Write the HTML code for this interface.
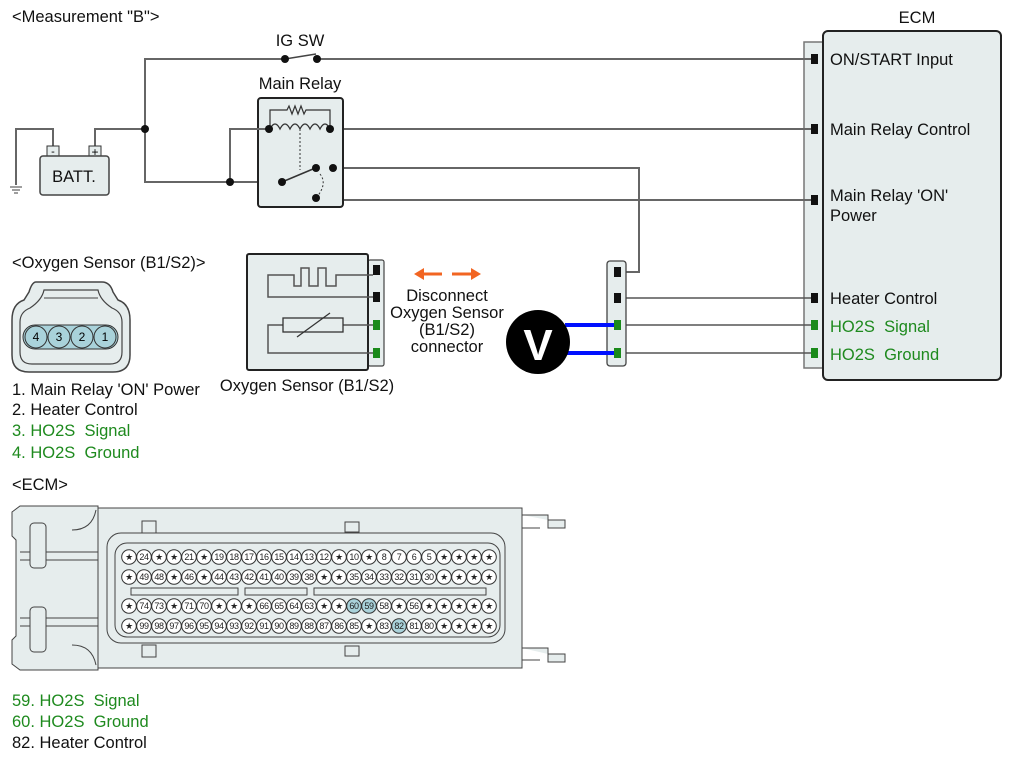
<!DOCTYPE html>
<html><head><meta charset="utf-8"><style>
html,body{margin:0;padding:0;background:#fff;}
svg{display:block;font-family:"Liberation Sans",Arial,sans-serif;}
.w{stroke:#666;stroke-width:2;fill:none}
.t{font-size:16.5px;fill:#111}
.g{font-size:16.5px;fill:#1e8a1e}
.p circle{fill:#fff;stroke:#333;stroke-width:1}
.p text{font-size:9px;text-anchor:middle;fill:#222;letter-spacing:-0.4px}
</style></head><body>
<svg width="1012" height="758" viewBox="0 0 1012 758">
<text x="12" y="22" class="t">&lt;Measurement "B"&gt;</text>
<text x="917" y="23" class="t" text-anchor="middle">ECM</text>
<text x="300" y="46" class="t" text-anchor="middle">IG SW</text>
<text x="300" y="89" class="t" text-anchor="middle">Main Relay</text>

<path d="M823 42 H804 V368 H823" fill="#e6eded" stroke="#777" stroke-width="1.5"/>
<rect x="823" y="31" width="178" height="349" rx="5" fill="#e6eded" stroke="#222" stroke-width="2"/>
<text x="830" y="65" class="t">ON/START Input</text>
<text x="830" y="135" class="t">Main Relay Control</text>
<text x="830" y="201" class="t">Main Relay 'ON'</text>
<text x="830" y="221" class="t">Power</text>
<text x="830" y="304" class="t">Heater Control</text>
<text x="830" y="332" class="g" xml:space="preserve">HO2S  Signal</text>
<text x="830" y="360" class="g" xml:space="preserve">HO2S  Ground</text>

<path class="w" d="M285 59 H145 V182 H282"/>
<path class="w" d="M317 59 H812"/>
<line x1="285" y1="59" x2="316" y2="54" stroke="#444" stroke-width="1.5"/>
<path class="w" d="M95 146 V129 H145"/>
<path class="w" d="M53 146 V129 H16 V185"/>
<path d="M10 187 H22 M12 190 H20 M14 193 H18" stroke="#666" stroke-width="1.2"/>
<path class="w" d="M330 129 H812"/>
<path class="w" d="M333 168 H639 V272 H617"/>
<path class="w" d="M333 168 V200 H812"/>
<path d="M617 298 H812 M617 325 H812 M617 353 H812" stroke="#555" stroke-width="1.5"/>

<rect x="47" y="146" width="12" height="10" fill="#e6eded" stroke="#333"/>
<rect x="89" y="146" width="12" height="10" fill="#e6eded" stroke="#333"/>
<text x="53" y="155" font-size="11" text-anchor="middle">-</text>
<text x="95" y="156" font-size="12" text-anchor="middle">+</text>
<rect x="40" y="156" width="69" height="39" rx="3" fill="#e6eded" stroke="#444" stroke-width="1.5"/>
<text x="74" y="182" class="t" text-anchor="middle">BATT.</text>

<rect x="258" y="98" width="85" height="109" rx="3" fill="#e6eded" stroke="#222" stroke-width="2"/>
<path class="w" d="M269 129 H230 V182"/>
<path d="M270 129 V110 H287 l2-4 l3 8 l3-8 l3 8 l3-8 l3 8 l2-4 H330 V129" fill="none" stroke="#333" stroke-width="1.2"/>
<path d="M270 129 q5-10 10 0 q5-10 10 0 q5-10 10 0 q5-10 10 0 q5-10 10 0 q5-10 10 0" fill="none" stroke="#333" stroke-width="1.3"/>
<line x1="300" y1="129" x2="300" y2="170" stroke="#333" stroke-dasharray="2,2"/>
<line x1="282" y1="182" x2="313" y2="169" stroke="#333" stroke-width="1.5"/>
<path d="M320 174 q8 10 -4 24" fill="none" stroke="#333" stroke-dasharray="2,2"/>
<g fill="#111"><circle cx="145" cy="129" r="4"/><circle cx="230" cy="182" r="4"/><circle cx="285" cy="59" r="4"/><circle cx="317" cy="59" r="4"/>
<circle cx="269" cy="129" r="4"/><circle cx="330" cy="129" r="4"/><circle cx="282" cy="182" r="4"/><circle cx="316" cy="168" r="4"/><circle cx="333" cy="168" r="4"/><circle cx="316" cy="198" r="4"/></g>

<g fill="#111"><rect x="811" y="54" width="7" height="10"/><rect x="811" y="124" width="7" height="10"/><rect x="811" y="195" width="7" height="10"/><rect x="811" y="293" width="7" height="10"/></g>
<g fill="#1a8a1a"><rect x="811" y="320" width="7" height="10"/><rect x="811" y="348" width="7" height="10"/></g>

<rect x="607" y="261" width="19" height="105" rx="3" fill="#e6eded" stroke="#444" stroke-width="1.3"/>
<g fill="#111"><rect x="614" y="267" width="7" height="10"/><rect x="614" y="293" width="7" height="10"/></g>
<g fill="#1a8a1a"><rect x="614" y="320" width="7" height="10"/><rect x="614" y="348" width="7" height="10"/></g>
<path d="M565 325 H614 M565 353 H614" stroke="#0010ff" stroke-width="4"/>
<circle cx="538" cy="342" r="32" fill="#000"/>
<text x="538" y="360" font-size="44" font-weight="bold" fill="#fff" text-anchor="middle">V</text>

<path d="M442 274 H422" stroke="#f26522" stroke-width="3"/><path d="M414 274 l10-6 v12z" fill="#f26522"/>
<path d="M452 274 H472" stroke="#f26522" stroke-width="3"/><path d="M481 274 l-10-6 v12z" fill="#f26522"/>
<g class="t" text-anchor="middle"><text x="447" y="301">Disconnect</text><text x="447" y="318">Oxygen Sensor</text><text x="447" y="335">(B1/S2)</text><text x="447" y="352">connector</text></g>

<rect x="368" y="260" width="16" height="106" rx="2" fill="#e6eded" stroke="#444" stroke-width="1.2"/>
<rect x="247" y="254" width="121" height="116" rx="2" fill="#e6eded" stroke="#222" stroke-width="2"/>
<path d="M373 275 H336 V286 H326 V268 H318 V286 H309 V268 H301 V286 H294 V275 H268 V297 H373" fill="none" stroke="#555" stroke-width="1.5"/>
<path d="M373 325 H343 M283 325 H268 V353 H373" fill="none" stroke="#555" stroke-width="1.5"/>
<rect x="283" y="318" width="60" height="14" fill="#e6eded" stroke="#333" stroke-width="1.3"/>
<line x1="297" y1="337" x2="330" y2="313" stroke="#333" stroke-width="1.3"/>
<g fill="#111"><rect x="373" y="265" width="7" height="10"/><rect x="373" y="292" width="7" height="10"/></g>
<g fill="#1a8a1a"><rect x="373" y="320" width="7" height="10"/><rect x="373" y="348" width="7" height="10"/></g>
<text x="307" y="391" class="t" text-anchor="middle">Oxygen Sensor (B1/S2)</text>

<text x="12" y="268" class="t">&lt;Oxygen Sensor (B1/S2)&gt;</text>
<path d="M36 282 H102 Q110 282 113 292 L118 300 Q130 304 130 320 V355 Q130 372 113 372 H29 Q12 372 12 355 V320 Q12 304 24 300 L29 292 Q32 282 36 282Z" fill="#e6eded" stroke="#444" stroke-width="1.5"/>
<path d="M44 290 H98 Q100 300 112 308 Q122 312 122 322 V352 Q122 364 110 364 H32 Q20 364 20 352 V322 Q20 312 30 308 Q42 300 44 290Z" fill="none" stroke="#444" stroke-width="1.2"/>
<line x1="44" y1="298" x2="98" y2="298" stroke="#444"/>
<rect x="23" y="325" width="95" height="24" rx="12" fill="#a9d2da" stroke="#333"/>
<g stroke="#333" fill="#a9d2da"><circle cx="36" cy="337" r="11"/><circle cx="59" cy="337" r="11"/><circle cx="82" cy="337" r="11"/><circle cx="105" cy="337" r="11"/></g>
<g font-size="12" text-anchor="middle"><text x="36" y="341">4</text><text x="59" y="341">3</text><text x="82" y="341">2</text><text x="105" y="341">1</text></g>
<text x="12" y="395" class="t">1. Main Relay 'ON' Power</text>
<text x="12" y="415" class="t">2. Heater Control</text>
<text x="12" y="436" class="g" xml:space="preserve">3. HO2S  Signal</text>
<text x="12" y="458" class="g" xml:space="preserve">4. HO2S  Ground</text>
<text x="12" y="490" class="t">&lt;ECM&gt;</text>

<g stroke="#444" stroke-width="1" fill="#e6eded">
<path d="M12 512 L20 506 H98 V670 H20 L12 664 V640 L16 636 V540 L12 536Z"/>
<rect x="98" y="508" width="424" height="160"/>
<path d="M522 515 H548 V528 H565 V520 H548 M522 528 H540"/>
<path d="M522 648 H548 V662 H565 V654 H548 M522 660 H540"/>
<path d="M20 552 H98 M20 560 H98 M20 618 H98 M20 626 H98" fill="none"/>
<rect x="30" y="523" width="16" height="45" rx="4"/><rect x="30" y="607" width="16" height="45" rx="4"/>
<path d="M72 530 q20 0 24 -20 M72 645 q20 0 24 20" fill="none"/>
<rect x="142" y="521" width="14" height="12"/><rect x="142" y="645" width="14" height="12"/>
<rect x="345" y="522" width="14" height="10"/><rect x="345" y="646" width="14" height="10"/>
<rect x="200" y="536" width="120" height="8"/><rect x="200" y="634" width="120" height="8"/>
<rect x="107" y="533" width="398" height="110" rx="14"/>
<rect x="115" y="543" width="385" height="94" rx="12"/>
<rect x="131" y="588" width="107" height="7"/><rect x="245" y="588" width="62" height="7"/><rect x="314" y="588" width="172" height="7"/>
</g>
<g class="p">
<circle cx="129" cy="557" r="7.3"/><text x="129" y="560">★</text>
<circle cx="144" cy="557" r="7.3"/><text x="144" y="560">24</text>
<circle cx="159" cy="557" r="7.3"/><text x="159" y="560">★</text>
<circle cx="174" cy="557" r="7.3"/><text x="174" y="560">★</text>
<circle cx="189" cy="557" r="7.3"/><text x="189" y="560">21</text>
<circle cx="204" cy="557" r="7.3"/><text x="204" y="560">★</text>
<circle cx="219" cy="557" r="7.3"/><text x="219" y="560">19</text>
<circle cx="234" cy="557" r="7.3"/><text x="234" y="560">18</text>
<circle cx="249" cy="557" r="7.3"/><text x="249" y="560">17</text>
<circle cx="264" cy="557" r="7.3"/><text x="264" y="560">16</text>
<circle cx="279" cy="557" r="7.3"/><text x="279" y="560">15</text>
<circle cx="294" cy="557" r="7.3"/><text x="294" y="560">14</text>
<circle cx="309" cy="557" r="7.3"/><text x="309" y="560">13</text>
<circle cx="324" cy="557" r="7.3"/><text x="324" y="560">12</text>
<circle cx="339" cy="557" r="7.3"/><text x="339" y="560">★</text>
<circle cx="354" cy="557" r="7.3"/><text x="354" y="560">10</text>
<circle cx="369" cy="557" r="7.3"/><text x="369" y="560">★</text>
<circle cx="384" cy="557" r="7.3"/><text x="384" y="560">8</text>
<circle cx="399" cy="557" r="7.3"/><text x="399" y="560">7</text>
<circle cx="414" cy="557" r="7.3"/><text x="414" y="560">6</text>
<circle cx="429" cy="557" r="7.3"/><text x="429" y="560">5</text>
<circle cx="444" cy="557" r="7.3"/><text x="444" y="560">★</text>
<circle cx="459" cy="557" r="7.3"/><text x="459" y="560">★</text>
<circle cx="474" cy="557" r="7.3"/><text x="474" y="560">★</text>
<circle cx="489" cy="557" r="7.3"/><text x="489" y="560">★</text>
<circle cx="129" cy="577" r="7.3"/><text x="129" y="580">★</text>
<circle cx="144" cy="577" r="7.3"/><text x="144" y="580">49</text>
<circle cx="159" cy="577" r="7.3"/><text x="159" y="580">48</text>
<circle cx="174" cy="577" r="7.3"/><text x="174" y="580">★</text>
<circle cx="189" cy="577" r="7.3"/><text x="189" y="580">46</text>
<circle cx="204" cy="577" r="7.3"/><text x="204" y="580">★</text>
<circle cx="219" cy="577" r="7.3"/><text x="219" y="580">44</text>
<circle cx="234" cy="577" r="7.3"/><text x="234" y="580">43</text>
<circle cx="249" cy="577" r="7.3"/><text x="249" y="580">42</text>
<circle cx="264" cy="577" r="7.3"/><text x="264" y="580">41</text>
<circle cx="279" cy="577" r="7.3"/><text x="279" y="580">40</text>
<circle cx="294" cy="577" r="7.3"/><text x="294" y="580">39</text>
<circle cx="309" cy="577" r="7.3"/><text x="309" y="580">38</text>
<circle cx="324" cy="577" r="7.3"/><text x="324" y="580">★</text>
<circle cx="339" cy="577" r="7.3"/><text x="339" y="580">★</text>
<circle cx="354" cy="577" r="7.3"/><text x="354" y="580">35</text>
<circle cx="369" cy="577" r="7.3"/><text x="369" y="580">34</text>
<circle cx="384" cy="577" r="7.3"/><text x="384" y="580">33</text>
<circle cx="399" cy="577" r="7.3"/><text x="399" y="580">32</text>
<circle cx="414" cy="577" r="7.3"/><text x="414" y="580">31</text>
<circle cx="429" cy="577" r="7.3"/><text x="429" y="580">30</text>
<circle cx="444" cy="577" r="7.3"/><text x="444" y="580">★</text>
<circle cx="459" cy="577" r="7.3"/><text x="459" y="580">★</text>
<circle cx="474" cy="577" r="7.3"/><text x="474" y="580">★</text>
<circle cx="489" cy="577" r="7.3"/><text x="489" y="580">★</text>
<circle cx="129" cy="606" r="7.3"/><text x="129" y="609">★</text>
<circle cx="144" cy="606" r="7.3"/><text x="144" y="609">74</text>
<circle cx="159" cy="606" r="7.3"/><text x="159" y="609">73</text>
<circle cx="174" cy="606" r="7.3"/><text x="174" y="609">★</text>
<circle cx="189" cy="606" r="7.3"/><text x="189" y="609">71</text>
<circle cx="204" cy="606" r="7.3"/><text x="204" y="609">70</text>
<circle cx="219" cy="606" r="7.3"/><text x="219" y="609">★</text>
<circle cx="234" cy="606" r="7.3"/><text x="234" y="609">★</text>
<circle cx="249" cy="606" r="7.3"/><text x="249" y="609">★</text>
<circle cx="264" cy="606" r="7.3"/><text x="264" y="609">66</text>
<circle cx="279" cy="606" r="7.3"/><text x="279" y="609">65</text>
<circle cx="294" cy="606" r="7.3"/><text x="294" y="609">64</text>
<circle cx="309" cy="606" r="7.3"/><text x="309" y="609">63</text>
<circle cx="324" cy="606" r="7.3"/><text x="324" y="609">★</text>
<circle cx="339" cy="606" r="7.3"/><text x="339" y="609">★</text>
<circle cx="354" cy="606" r="7.3" style="fill:#a9d2da"/><text x="354" y="609">60</text>
<circle cx="369" cy="606" r="7.3" style="fill:#a9d2da"/><text x="369" y="609">59</text>
<circle cx="384" cy="606" r="7.3"/><text x="384" y="609">58</text>
<circle cx="399" cy="606" r="7.3"/><text x="399" y="609">★</text>
<circle cx="414" cy="606" r="7.3"/><text x="414" y="609">56</text>
<circle cx="429" cy="606" r="7.3"/><text x="429" y="609">★</text>
<circle cx="444" cy="606" r="7.3"/><text x="444" y="609">★</text>
<circle cx="459" cy="606" r="7.3"/><text x="459" y="609">★</text>
<circle cx="474" cy="606" r="7.3"/><text x="474" y="609">★</text>
<circle cx="489" cy="606" r="7.3"/><text x="489" y="609">★</text>
<circle cx="129" cy="626" r="7.3"/><text x="129" y="629">★</text>
<circle cx="144" cy="626" r="7.3"/><text x="144" y="629">99</text>
<circle cx="159" cy="626" r="7.3"/><text x="159" y="629">98</text>
<circle cx="174" cy="626" r="7.3"/><text x="174" y="629">97</text>
<circle cx="189" cy="626" r="7.3"/><text x="189" y="629">96</text>
<circle cx="204" cy="626" r="7.3"/><text x="204" y="629">95</text>
<circle cx="219" cy="626" r="7.3"/><text x="219" y="629">94</text>
<circle cx="234" cy="626" r="7.3"/><text x="234" y="629">93</text>
<circle cx="249" cy="626" r="7.3"/><text x="249" y="629">92</text>
<circle cx="264" cy="626" r="7.3"/><text x="264" y="629">91</text>
<circle cx="279" cy="626" r="7.3"/><text x="279" y="629">90</text>
<circle cx="294" cy="626" r="7.3"/><text x="294" y="629">89</text>
<circle cx="309" cy="626" r="7.3"/><text x="309" y="629">88</text>
<circle cx="324" cy="626" r="7.3"/><text x="324" y="629">87</text>
<circle cx="339" cy="626" r="7.3"/><text x="339" y="629">86</text>
<circle cx="354" cy="626" r="7.3"/><text x="354" y="629">85</text>
<circle cx="369" cy="626" r="7.3"/><text x="369" y="629">★</text>
<circle cx="384" cy="626" r="7.3"/><text x="384" y="629">83</text>
<circle cx="399" cy="626" r="7.3" style="fill:#a9d2da"/><text x="399" y="629">82</text>
<circle cx="414" cy="626" r="7.3"/><text x="414" y="629">81</text>
<circle cx="429" cy="626" r="7.3"/><text x="429" y="629">80</text>
<circle cx="444" cy="626" r="7.3"/><text x="444" y="629">★</text>
<circle cx="459" cy="626" r="7.3"/><text x="459" y="629">★</text>
<circle cx="474" cy="626" r="7.3"/><text x="474" y="629">★</text>
<circle cx="489" cy="626" r="7.3"/><text x="489" y="629">★</text>
</g>

<text x="12" y="706" class="g" xml:space="preserve">59. HO2S  Signal</text>
<text x="12" y="727" class="g" xml:space="preserve">60. HO2S  Ground</text>
<text x="12" y="748" class="t">82. Heater Control</text>
</svg>
</body></html>
